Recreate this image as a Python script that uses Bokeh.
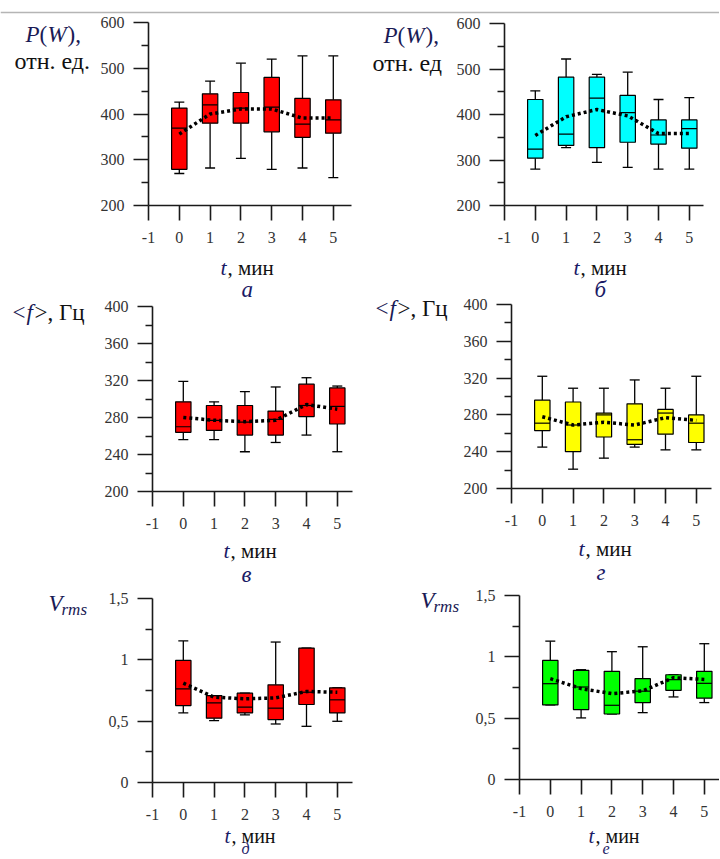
import numpy as np
from bokeh.plotting import figure
from bokeh.models import Range1d, FixedTicker, Label, Span, LinearAxis
from bokeh.embed import file_html
from bokeh.resources import INLINE

# ---------------- data ----------------
t = [0, 1, 2, 3, 4, 5]
x_ticks = [-1, 0, 1, 2, 3, 4, 5]
x_labels = {-1: "-1", 0: "0", 1: "1", 2: "2", 3: "3", 4: "4", 5: "5"}

# panel а: P(W), red
a_wlo = [270, 282, 303, 279, 282, 261]
a_q1 = [279, 380, 380, 361, 349, 358]
a_med = [369, 420, 413, 415, 378, 387]
a_q3 = [413, 444, 447, 480, 434, 431]
a_whi = [426, 472, 511, 520, 527, 527]
a_mean = [356, 400, 411, 411, 391, 391]

# panel б: P(W), cyan
b_wlo = [280, 327, 295, 284, 280, 280]
b_q1 = [304, 332, 327, 339, 335, 326]
b_med = [324, 357, 436, 404, 355, 369]
b_q3 = [433, 482, 482, 442, 388, 388]
b_whi = [452, 522, 488, 493, 433, 437]
b_mean = [354, 395, 411, 397, 358, 358]

# panel в: <f>, red
c_wlo = [256, 256, 243, 253, 261, 243]
c_q1 = [264, 266, 261, 261, 281, 273]
c_med = [270, 277, 275, 278, 293, 292]
c_q3 = [297, 293, 293, 287, 316, 312]
c_whi = [319, 297, 308, 313, 323, 314]
c_mean = [280, 277, 275.5, 277, 294, 289]

# panel г: <f>, yellow
d_wlo = [245, 221, 233, 245, 242, 242]
d_q1 = [263, 240, 256, 248, 259, 250]
d_med = [271, 269, 280, 253, 282, 271]
d_q3 = [296, 294, 282, 292, 286, 280]
d_whi = [322, 309, 309, 318, 309, 322]
d_mean = [278, 269, 272, 269, 277, 274]

# panel д: Vrms, red
e_wlo = [0.567, 0.505, 0.551, 0.477, 0.458, 0.499]
e_q1 = [0.627, 0.524, 0.567, 0.513, 0.636, 0.567]
e_med = [0.764, 0.649, 0.614, 0.606, 0.736, 0.674]
e_q3 = [0.995, 0.709, 0.728, 0.796, 1.096, 0.772]
e_whi = [1.154, 0.709, 0.728, 1.145, 1.096, 0.772]
e_mean = [0.81, 0.696, 0.682, 0.69, 0.742, 0.736]

# panel е: Vrms, green
f_wlo = [0.608, 0.502, 0.534, 0.545, 0.673, 0.627]
f_q1 = [0.608, 0.570, 0.534, 0.627, 0.727, 0.663]
f_med = [0.781, 0.754, 0.605, 0.72, 0.814, 0.784]
f_q3 = [0.971, 0.89, 0.882, 0.822, 0.854, 0.882]
f_whi = [1.128, 0.895, 1.042, 1.082, 0.854, 1.107]
f_mean = [0.822, 0.741, 0.70, 0.722, 0.83, 0.816]

p_major = [200, 300, 400, 500, 600]
p_minor = [250, 350, 450, 550]
f_major = [200, 240, 280, 320, 360, 400]
f_minor = [220, 260, 300, 340, 380]
v_major = [0, 0.5, 1, 1.5]
v_minor = [0.25, 0.75, 1.25]
v_labels = {0: "0", 0.5: "0,5", 1: "1", 1.5: "1,5"}

SERIF = "Liberation Serif"
PX = 30.8  # pixels per minute on x
INK = "#1a1a1a"
W, H = 719, 859

# panel layout: name -> (y-axis x, frame top, frame bottom, x-axis end, y range)
LAYOUT = {
    "a": (148, 22, 205, 5.6, (200, 600)),
    "b": (504, 23, 205, 5.45, (200, 600)),
    "c": (152, 306, 491, 5.5, (200, 400)),
    "d": (511, 304, 488, 5.5, (200, 400)),
    "e": (152, 598, 782, 5.5, (0, 1.5)),
    "f": (519, 595, 779, 5.55, (0, 1.5)),
}

xr, yr_ = {}, {}
for name, (axx, top, bot, xend, (lo, hi)) in LAYOUT.items():
    upp = (hi - lo) / (bot - top)
    x0 = -1 - axx / PX
    xr[name] = Range1d(x0, x0 + W / PX)
    yr_[name] = Range1d(lo - (H - bot) * upp, hi + top * upp)

p = figure(width=W, height=H, x_range=Range1d(0, W), y_range=Range1d(0, H),
           output_backend="svg", toolbar_location=None,
           x_axis_location=None, y_axis_location=None,
           min_border=0, min_border_left=0, min_border_right=0,
           min_border_top=0, min_border_bottom=0,
           background_fill_color="white", border_fill_color="white")
p.extra_x_ranges = xr
p.extra_y_ranges = yr_
p.outline_line_color = None
p.grid.visible = False

# faint page edge of the scan at the top
p.add_layout(Span(location=H - 12, dimension="width", line_color="#b5b5b5", line_width=1.5))


def style_axis(ax):
    ax.axis_line_color = INK
    ax.axis_line_width = 1.6
    ax.major_tick_line_color = INK
    ax.major_tick_line_width = 1.6
    ax.minor_tick_line_color = INK
    ax.minor_tick_line_width = 1.6
    ax.major_tick_in = 0
    ax.major_tick_out = 15
    ax.minor_tick_in = 0
    ax.minor_tick_out = 7
    ax.major_label_text_font = SERIF
    ax.major_label_text_font_size = "16px"
    ax.major_label_text_color = "#333333"


def lab(name, x, y, text, xo, yo, size=23, style="normal", align="left", color="#111111"):
    p.add_layout(Label(x=x, y=y, text=text, x_offset=xo, y_offset=yo,
                       x_range_name=name, y_range_name=name,
                       text_font=SERIF, text_font_size=f"{size}px",
                       text_font_style=style, text_color=color,
                       text_align=align, text_baseline="alphabetic"))


def panel(name, ymaj, ymin_t, color, wlo, q1, med, q3, whi, mean, overrides=None):
    axx, top, bot, xend, (lo, hi) = LAYOUT[name]
    xa = LinearAxis(x_range_name=name, y_range_name=name, fixed_location=lo,
                    bounds=(-1, xend),
                    ticker=FixedTicker(ticks=x_ticks, minor_ticks=[]))
    style_axis(xa)
    xa.major_label_standoff = 11
    xa.major_label_overrides = x_labels
    p.add_layout(xa, "below")
    ya = LinearAxis(x_range_name=name, y_range_name=name, fixed_location=-1,
                    bounds=(lo, hi),
                    ticker=FixedTicker(ticks=ymaj, minor_ticks=ymin_t))
    style_axis(ya)
    ya.major_label_standoff = 9
    if overrides:
        ya.major_label_overrides = overrides
    p.add_layout(ya, "left")

    kw = dict(x_range_name=name, y_range_name=name)
    tt = np.array(t, dtype=float)
    p.segment(tt, q3, tt, whi, line_color="black", line_width=1.3, **kw)
    p.segment(tt, wlo, tt, q1, line_color="black", line_width=1.3, **kw)
    p.scatter(tt, whi, marker="dash", size=10, line_color="black", line_width=1.3, **kw)
    p.scatter(tt, wlo, marker="dash", size=10, line_color="black", line_width=1.3, **kw)
    p.vbar(x=tt, width=0.5, bottom=q1, top=q3, fill_color=color,
           line_color="black", line_width=1.2, **kw)
    p.segment(tt - 0.25, med, tt + 0.25, med, line_color="black", line_width=1.2, **kw)
    p.line(tt, mean, line_color="black", line_width=3.5, line_dash="3 3", **kw)


def tlabel(name, xo, yo, letter, lxo, lyo, lsize=23, tsize=21):
    lo = LAYOUT[name][4][0]
    lab(name, -1, lo, "t", xo, yo, size=tsize + 1, style="italic", color="#1a1a66")
    lab(name, -1, lo, ", мин", xo + 7, yo, size=tsize)
    lab(name, -1, lo, letter, lxo, lyo, size=lsize, style="italic", color="#1a1a66")


def pw_label(name, xo, yo1, yo2, text2):
    hi = LAYOUT[name][4][1]
    lab(name, -1, hi, "P", xo, yo1, style="italic", color="#1a1a55")
    lab(name, -1, hi, "(", xo + 14, yo1, color="#1a1a55")
    lab(name, -1, hi, "W", xo + 22, yo1, style="italic", color="#1a1a55")
    lab(name, -1, hi, "),", xo + 42, yo1, color="#1a1a55")
    lab(name, -1, hi, text2, xo - 11, yo2, size=24)


def f_label(name, xo, yo):
    hi = LAYOUT[name][4][1]
    lab(name, -1, hi, "<", xo, yo, size=23, color="#1a1a55")
    lab(name, -1, hi, "f", xo + 14, yo, size=23, style="italic", color="#1a1a55")
    lab(name, -1, hi, ">, Гц", xo + 22, yo, size=23)


def v_label(name, xo, yo):
    hi = LAYOUT[name][4][1]
    lab(name, -1, hi, "V", xo, yo, style="italic", color="#1a1a55")
    lab(name, -1, hi, "rms", xo + 13, yo - 6, size=17, style="italic", color="#1a1a55")


panel("a", p_major, p_minor, "#ff0000", a_wlo, a_q1, a_med, a_q3, a_whi, a_mean)
pw_label("a", -123, -12, -38, "отн. ед.")
tlabel("a", 72, -62, "а", 93, -84)

panel("b", p_major, p_minor, "#00ffff", b_wlo, b_q1, b_med, b_q3, b_whi, b_mean)
pw_label("b", -121, -12, -39, "отн. ед")
tlabel("b", 69, -62, "б", 90, -84)

panel("c", f_major, f_minor, "#ff0000", c_wlo, c_q1, c_med, c_q3, c_whi, c_mean)
f_label("c", -140, -6)
tlabel("c", 71, -59, "в", 89, -83)

panel("d", f_major, f_minor, "#ffff00", d_wlo, d_q1, d_med, d_q3, d_whi, d_mean)
f_label("d", -136, -4)
tlabel("d", 67, -60, "г", 85, -84)

panel("e", v_major, v_minor, "#ff0000", e_wlo, e_q1, e_med, e_q3, e_whi, e_mean, v_labels)
v_label("e", -104, -5)
tlabel("e", 72, -53, "д", 89, -66, lsize=16, tsize=20)

panel("f", v_major, v_minor, "#00ff00", f_wlo, f_q1, f_med, f_q3, f_whi, f_mean, v_labels)
v_label("f", -99, -5)
tlabel("f", 69, -56, "е", 83, -69, lsize=16, tsize=20)

open("out.html", "w").write(file_html(p, INLINE))
